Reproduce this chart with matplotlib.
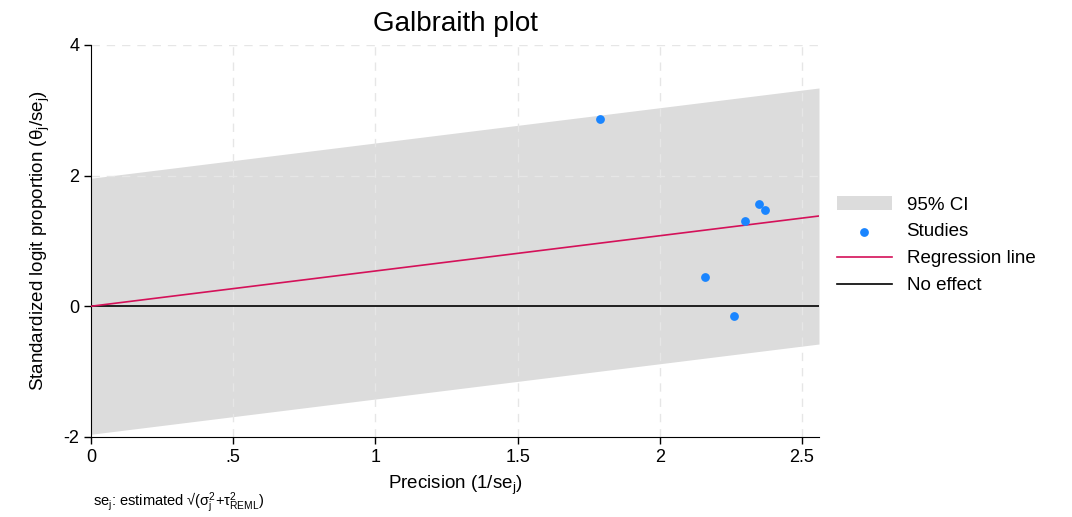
import matplotlib.pyplot as plt
import numpy as np

plt.rcParams['font.family'] = ['Liberation Sans', 'DejaVu Sans']
plt.rcParams['mathtext.fontset'] = 'custom'
plt.rcParams['mathtext.rm'] = 'Liberation Sans'
plt.rcParams['mathtext.it'] = 'Liberation Sans:italic'
plt.rcParams['axes.unicode_minus'] = False

# study precision (1/se) and standardized effect (theta/se)
precision = [1.79, 2.16, 2.26, 2.30, 2.35, 2.37]
std_effect = [2.86, 0.44, -0.15, 1.30, 1.56, 1.47]
xticks = [0, 0.5, 1, 1.5, 2, 2.5]
xticklabels = ["0", ".5", "1", "1.5", "2", "2.5"]
yticks = [-2, 0, 2, 4]

x = np.array(precision)
z = np.array(std_effect)
slope = np.sum(x * z) / np.sum(x ** 2)  # regression through the origin

fig = plt.figure(figsize=(10.72, 5.17), dpi=100)
ax = fig.add_axes([0.085, 0.155, 0.679, 0.758])

xmax = 2.56
xs = np.array([0, xmax])
ax.fill_between(xs, slope * xs - 1.96, slope * xs + 1.96, color="#dcdcdc", lw=0,
                zorder=1, label="95% CI")
ax.scatter(x, z, s=40, color="#1a85ff", zorder=4, label="Studies", linewidths=0)
ax.plot(xs, slope * xs, color="#d41159", lw=1.2, zorder=3, label="Regression line")
ax.axhline(0, color="black", lw=1.2, zorder=2, label="No effect")

ax.set_xlim(0, xmax)
ax.set_ylim(-2, 4)
ax.set_xticks(xticks)
ax.set_xticklabels(xticklabels)
ax.set_yticks(yticks)
for t in xticks[1:]:
    ax.axvline(t, color="#e6e6e6", lw=1, ls=(0, (6, 5)), zorder=1.5)
for t in [2, 4]:
    ax.axhline(t, color="#e6e6e6", lw=1, ls=(0, (6, 5)), zorder=1.5)

for s in ["top", "right"]:
    ax.spines[s].set_visible(False)
ax.tick_params(labelsize=13, length=5, width=1)

ax.set_title("Galbraith plot", fontsize=20, pad=10)
ax.set_xlabel(r"Precision (1/se$_\mathregular{j}$)", fontsize=13.5, labelpad=6)
ax.set_ylabel(r"Standardized logit proportion (θ$_\mathregular{j}$/se$_\mathregular{j}$)",
              fontsize=13.5, labelpad=8)

fig.text(0.087, 0.027,
         r"se$_\mathregular{j}$: estimated √(σ$_\mathregular{j}^\mathregular{2}$+τ$^\mathregular{2}_\mathregular{REML}$)",
         fontsize=10.5, va="center")

ax.legend(loc="upper left", bbox_to_anchor=(0.781, 0.62), bbox_transform=fig.transFigure,
          frameon=False, fontsize=13.5, borderpad=0, borderaxespad=0,
          handlelength=2.9, handletextpad=0.8, labelspacing=0.52)

fig.savefig("out.png", dpi=100)
